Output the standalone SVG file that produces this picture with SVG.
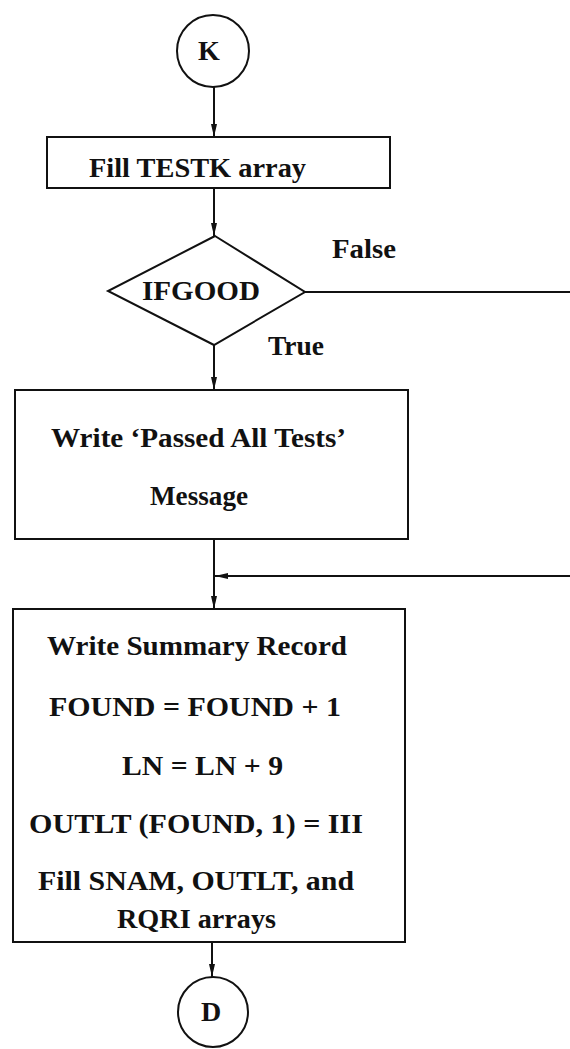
<svg xmlns="http://www.w3.org/2000/svg" width="570" height="1049" viewBox="0 0 570 1049">
  <style>
    .shape { fill: none; stroke: #111; stroke-width: 2; }
    .flow { fill: none; stroke: #111; stroke-width: 2; }
    .lbl { font-family: "Liberation Serif", "Times New Roman", serif; font-weight: bold; font-size: 28px; fill: #111; }
  </style>
  <defs>
    <marker id="arrow" markerUnits="userSpaceOnUse" markerWidth="14" markerHeight="8" refX="13" refY="4" orient="auto">
      <path d="M0,1 L13,4 L0,7 z" fill="#111"/>
    </marker>
  </defs>
  <rect width="570" height="1049" fill="#fff"/>

  <!-- connectors -->
  <g id="connectors">
    <line class="flow" x1="214" y1="87" x2="214" y2="137" marker-end="url(#arrow)"/>
    <line class="flow" x1="214" y1="188" x2="214" y2="236" marker-end="url(#arrow)"/>
    <line class="flow" x1="305" y1="292" x2="570" y2="292"/>
    <line class="flow" x1="214" y1="345" x2="214" y2="390" marker-end="url(#arrow)"/>
    <line class="flow" x1="214" y1="539" x2="214" y2="609" marker-end="url(#arrow)"/>
    <line class="flow" x1="570" y1="576" x2="215" y2="576" marker-end="url(#arrow)"/>
    <line class="flow" x1="212" y1="942" x2="212" y2="977" marker-end="url(#arrow)"/>
  </g>

  <!-- connector labels -->
  <text class="lbl" x="332" y="258" textLength="64" lengthAdjust="spacingAndGlyphs">False</text>
  <text class="lbl" x="268" y="355" textLength="56" lengthAdjust="spacingAndGlyphs">True</text>

  <g id="node-k">
    <circle class="shape" cx="213" cy="51" r="36"/>
    <text class="lbl" x="209" y="60" text-anchor="middle">K</text>
  </g>

  <g id="node-fill-testk">
    <rect class="shape" x="47" y="137" width="343" height="51"/>
    <text class="lbl" x="89" y="177" textLength="217" lengthAdjust="spacingAndGlyphs">Fill TESTK array</text>
  </g>

  <g id="node-ifgood">
    <polygon class="shape" points="215,236 305,292 214,345 108,291"/>
    <text class="lbl" x="142" y="300" textLength="118" lengthAdjust="spacingAndGlyphs">IFGOOD</text>
  </g>

  <g id="node-passed">
    <rect class="shape" x="15" y="390" width="393" height="149"/>
    <text class="lbl" x="51" y="447" textLength="295" lengthAdjust="spacingAndGlyphs">Write ‘Passed All Tests’</text>
    <text class="lbl" x="150" y="505" textLength="98" lengthAdjust="spacingAndGlyphs">Message</text>
  </g>

  <g id="node-summary">
    <rect class="shape" x="13" y="609" width="392" height="333"/>
    <text class="lbl" x="47" y="655" textLength="300" lengthAdjust="spacingAndGlyphs">Write Summary Record</text>
    <text class="lbl" x="49" y="716" textLength="292" lengthAdjust="spacingAndGlyphs">FOUND = FOUND + 1</text>
    <text class="lbl" x="122" y="775" textLength="161" lengthAdjust="spacingAndGlyphs">LN = LN + 9</text>
    <text class="lbl" x="29" y="833" textLength="334" lengthAdjust="spacingAndGlyphs">OUTLT (FOUND, 1) = III</text>
    <text class="lbl" x="38" y="890" textLength="316" lengthAdjust="spacingAndGlyphs">Fill SNAM, OUTLT, and</text>
    <text class="lbl" x="117" y="928" textLength="159" lengthAdjust="spacingAndGlyphs">RQRI arrays</text>
  </g>

  <g id="node-d">
    <circle class="shape" cx="213" cy="1012" r="35"/>
    <text class="lbl" x="211" y="1021" text-anchor="middle">D</text>
  </g>
</svg>
